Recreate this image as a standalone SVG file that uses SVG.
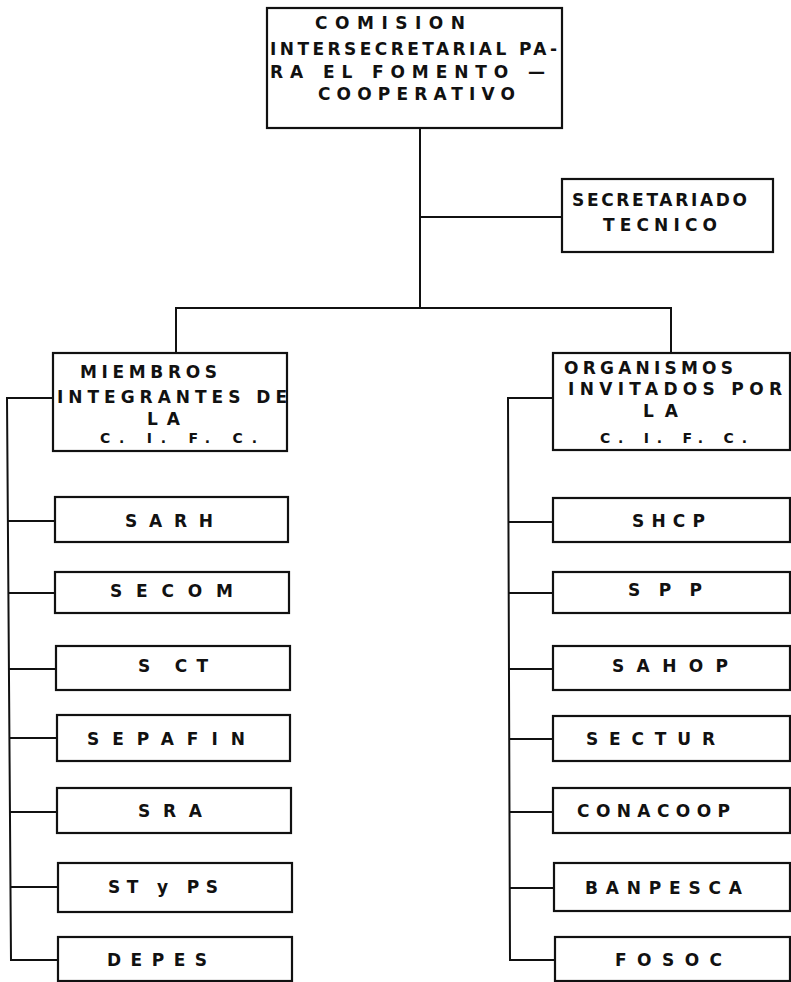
<svg xmlns="http://www.w3.org/2000/svg" width="791" height="982" viewBox="0 0 791 982">
<style>
.box{fill:#fff;stroke:#111;stroke-width:2.2}
.ln{fill:none;stroke:#111;stroke-width:2}
text{font-family:"DejaVu Sans","Liberation Sans",sans-serif;font-weight:bold;font-size:17px;fill:#111}
.sm{font-size:14px}
</style>
<rect width="791" height="982" fill="#fff"/>
<g id="connectors">
<polyline class="ln" points="420,128 420,308"/>
<polyline class="ln" points="420,217 562,217"/>
<polyline class="ln" points="176,353 176,308 671,308 671,353"/>
<polyline class="ln" points="53,398 7,398 11,960 58,960"/>
<line class="ln" x1="8" y1="521" x2="55" y2="521"/>
<line class="ln" x1="8" y1="593" x2="55" y2="593"/>
<line class="ln" x1="9" y1="669" x2="56" y2="669"/>
<line class="ln" x1="9" y1="738" x2="57" y2="738"/>
<line class="ln" x1="10" y1="812" x2="57" y2="812"/>
<line class="ln" x1="10" y1="887" x2="58" y2="887"/>
<polyline class="ln" points="553,398 508,398 510,960 555,960"/>
<line class="ln" x1="508" y1="522" x2="553" y2="522"/>
<line class="ln" x1="508" y1="593" x2="553" y2="593"/>
<line class="ln" x1="509" y1="669" x2="553" y2="669"/>
<line class="ln" x1="509" y1="739" x2="553" y2="739"/>
<line class="ln" x1="509" y1="812" x2="553" y2="812"/>
<line class="ln" x1="510" y1="888" x2="554" y2="888"/>
</g>
<g id="cifc">
<rect class="box" x="267" y="8" width="295" height="120"/>
<text x="315" y="29" textLength="150" lengthAdjust="spacing">COMISION</text>
<text x="270" y="55" textLength="287" lengthAdjust="spacing">INTERSECRETARIAL PA-</text>
<text x="270" y="78" textLength="275" lengthAdjust="spacing">RA EL FOMENTO  —</text>
<text x="318" y="100" textLength="197" lengthAdjust="spacing">COOPERATIVO</text>
</g>
<g id="secretariado">
<rect class="box" x="562" y="179" width="211" height="73"/>
<text x="572" y="206" textLength="175" lengthAdjust="spacing">SECRETARIADO</text>
<text x="603" y="231" textLength="114" lengthAdjust="spacing">TECNICO</text>
</g>
<g id="miembros">
<rect class="box" x="53" y="353" width="234" height="98"/>
<text x="80" y="378" textLength="137" lengthAdjust="spacing">MIEMBROS</text>
<text x="57" y="403" textLength="230" lengthAdjust="spacing">INTEGRANTES DE</text>
<text x="147" y="425" textLength="33" lengthAdjust="spacing">LA</text>
<text class="sm" x="100" y="443" textLength="157" lengthAdjust="spacing">C.  I.  F.  C.</text>
</g>
<g id="organismos">
<rect class="box" x="553" y="353" width="237" height="97"/>
<text x="564" y="374" textLength="169" lengthAdjust="spacing">ORGANISMOS</text>
<text x="568" y="395" textLength="214" lengthAdjust="spacing">INVITADOS POR</text>
<text x="643" y="417" textLength="35" lengthAdjust="spacing">LA</text>
<text class="sm" x="600" y="443" textLength="147" lengthAdjust="spacing">C.  I.  F.  C.</text>
</g>
<g id="sarh"><rect class="box" x="55" y="497" width="233" height="45"/><text x="125" y="527" textLength="88" lengthAdjust="spacing">SARH</text></g>
<g id="secom"><rect class="box" x="55" y="572" width="234" height="41"/><text x="110" y="597" textLength="123" lengthAdjust="spacing">SECOM</text></g>
<g id="sct"><rect class="box" x="56" y="646" width="234" height="44"/><text x="138" y="672" textLength="70" lengthAdjust="spacing">S CT</text></g>
<g id="sepafin"><rect class="box" x="57" y="715" width="233" height="46"/><text x="87" y="745" textLength="158" lengthAdjust="spacing">SEPAFIN</text></g>
<g id="sra"><rect class="box" x="57" y="788" width="234" height="45"/><text x="138" y="817" textLength="64" lengthAdjust="spacing">SRA</text></g>
<g id="styps"><rect class="box" x="58" y="863" width="234" height="49"/><text x="108" y="893" textLength="110" lengthAdjust="spacing">ST y PS</text></g>
<g id="depes"><rect class="box" x="58" y="937" width="234" height="44"/><text x="107" y="966" textLength="100" lengthAdjust="spacing">DEPES</text></g>
<g id="shcp"><rect class="box" x="553" y="498" width="237" height="44"/><text x="632" y="527" textLength="73" lengthAdjust="spacing">SHCP</text></g>
<g id="spp"><rect class="box" x="553" y="572" width="237" height="41"/><text x="628" y="596" textLength="74" lengthAdjust="spacing">SPP</text></g>
<g id="sahop"><rect class="box" x="553" y="646" width="237" height="44"/><text x="612" y="672" textLength="116" lengthAdjust="spacing">SAHOP</text></g>
<g id="sectur"><rect class="box" x="553" y="716" width="237" height="45"/><text x="586" y="745" textLength="129" lengthAdjust="spacing">SECTUR</text></g>
<g id="conacoop"><rect class="box" x="553" y="788" width="237" height="45"/><text x="577" y="817" textLength="153" lengthAdjust="spacing">CONACOOP</text></g>
<g id="banpesca"><rect class="box" x="554" y="863" width="236" height="48"/><text x="585" y="894" textLength="157" lengthAdjust="spacing">BANPESCA</text></g>
<g id="fosoc"><rect class="box" x="555" y="937" width="235" height="44"/><text x="615" y="966" textLength="107" lengthAdjust="spacing">FOSOC</text></g>
</svg>
